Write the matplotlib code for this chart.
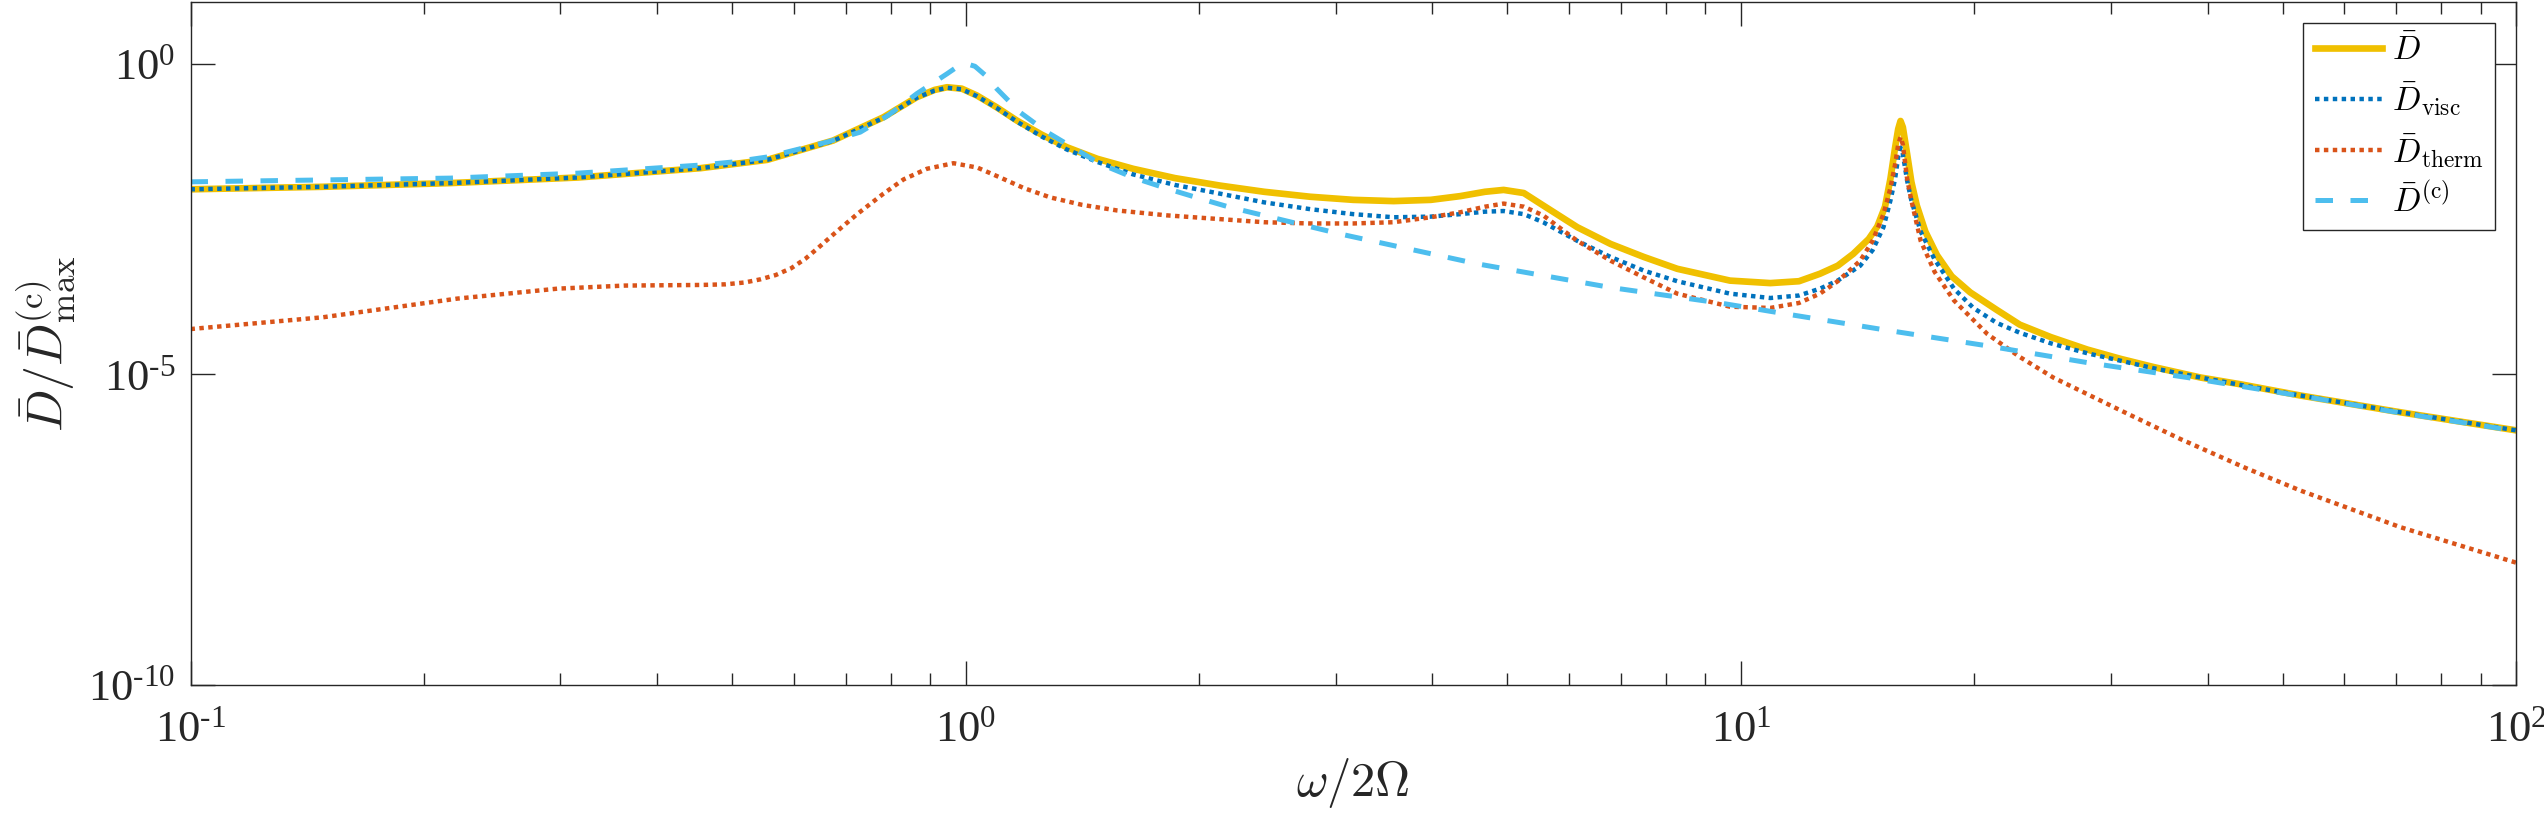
import numpy as np
import matplotlib
matplotlib.use("Agg")
from matplotlib import pyplot as plt
from matplotlib.ticker import FixedLocator, LogLocator, FuncFormatter, NullFormatter

# values, as log10(omega/2Omega) and log10(D/Dmax)
logw_total = [-1.0, -0.83, -0.665, -0.5, -0.342, -0.256, -0.171, -0.106, -0.063, -0.04,
              -0.024, -0.005, 0.0145, 0.04, 0.066, 0.098, 0.1306, 0.17, 0.216, 0.27,
              0.328, 0.385, 0.4445, 0.5, 0.552, 0.6, 0.638, 0.67, 0.694, 0.72,
              0.745, 0.789, 0.832, 0.875, 0.918, 0.986, 1.038, 1.075, 1.102, 1.125,
              1.145, 1.165, 1.176, 1.186, 1.193, 1.199, 1.203, 1.206, 1.209, 1.2145,
              1.22, 1.227, 1.238, 1.253, 1.272, 1.296, 1.33, 1.36, 1.40, 1.447,
              1.49, 1.532, 1.593, 1.645, 1.722, 1.851, 2.0]
logD_total = [-2.02, -1.98, -1.92, -1.83, -1.68, -1.546, -1.235, -0.86, -0.537, -0.42,
              -0.377, -0.40, -0.51, -0.70, -0.913, -1.14, -1.343, -1.53, -1.69, -1.84,
              -1.96, -2.06, -2.14, -2.19, -2.21, -2.19, -2.13, -2.06, -2.03, -2.08,
              -2.28, -2.63, -2.90, -3.11, -3.30, -3.49, -3.53, -3.50, -3.38, -3.25,
              -3.06, -2.82, -2.62, -2.30, -1.85, -1.35, -1.05, -0.92, -1.02, -1.45,
              -1.90, -2.28, -2.70, -3.08, -3.42, -3.68, -3.96, -4.20, -4.40, -4.60,
              -4.75, -4.88, -5.05, -5.16, -5.34, -5.61, -5.90]

logw_visc = [-1.0, -0.83, -0.665, -0.5, -0.342, -0.256, -0.171, -0.106, -0.063, -0.04,
             -0.024, -0.005, 0.0145, 0.04, 0.066, 0.098, 0.1306, 0.17, 0.216, 0.27,
             0.328, 0.385, 0.4445, 0.5, 0.552, 0.6, 0.638, 0.67, 0.694, 0.72,
             0.745, 0.789, 0.832, 0.875, 0.918, 0.986, 1.038, 1.075, 1.102, 1.125,
             1.154, 1.17, 1.184, 1.193, 1.199, 1.203, 1.206, 1.209, 1.2145, 1.22,
             1.232, 1.25, 1.275, 1.30, 1.33, 1.36, 1.40, 1.447, 1.49, 1.532,
             1.593, 1.645, 1.722, 1.851, 2.0]
logD_visc = [-2.02, -1.98, -1.92, -1.83, -1.68, -1.546, -1.24, -0.87, -0.545, -0.43,
             -0.385, -0.41, -0.52, -0.71, -0.93, -1.17, -1.38, -1.58, -1.78, -1.95,
             -2.09, -2.23, -2.34, -2.42, -2.47, -2.46, -2.42, -2.38, -2.37, -2.42,
             -2.55, -2.85, -3.11, -3.33, -3.50, -3.70, -3.77, -3.73, -3.62, -3.49,
             -3.25, -3.00, -2.63, -2.20, -1.85, -1.50, -1.35, -1.45, -1.88, -2.20,
             -2.70, -3.15, -3.62, -3.93, -4.17, -4.33, -4.50, -4.66, -4.78, -4.90,
             -5.05, -5.17, -5.34, -5.61, -5.90]

logw_therm = [-1.0, -0.829, -0.656, -0.527, -0.44, -0.342, -0.31, -0.285, -0.265, -0.245,
              -0.225, -0.207, -0.19, -0.171, -0.14, -0.106, -0.08, -0.05, -0.0157, 0.015,
              0.0445, 0.075, 0.109, 0.15, 0.195, 0.26, 0.328, 0.385, 0.4445, 0.5,
              0.552, 0.6, 0.638, 0.67, 0.694, 0.72, 0.745, 0.789, 0.832, 0.875,
              0.918, 0.986, 1.038, 1.075, 1.102, 1.125, 1.154, 1.17, 1.184, 1.193,
              1.199, 1.203, 1.206, 1.209, 1.2145, 1.22, 1.232, 1.25, 1.275, 1.318,
              1.36, 1.403, 1.49, 1.567, 1.65, 1.722, 1.851, 2.0]
logD_therm = [-4.27, -4.08, -3.78, -3.62, -3.57, -3.56, -3.55, -3.52, -3.47, -3.40,
              -3.29, -3.14, -2.96, -2.75, -2.42, -2.09, -1.86, -1.69, -1.60, -1.67,
              -1.83, -2.00, -2.15, -2.27, -2.36, -2.44, -2.50, -2.55, -2.57, -2.57,
              -2.55, -2.47, -2.39, -2.30, -2.25, -2.30, -2.44, -2.85, -3.17, -3.44,
              -3.70, -3.91, -3.93, -3.85, -3.70, -3.50, -3.17, -2.85, -2.42, -2.00,
              -1.62, -1.30, -1.18, -1.30, -1.85, -2.20, -2.85, -3.35, -3.81, -4.35,
              -4.72, -5.05, -5.58, -6.04, -6.50, -6.87, -7.46, -8.03]

logw_c = [-1.0, -0.665, -0.5, -0.342, -0.30, -0.256, -0.179, -0.136, -0.10, -0.063,
          -0.024, -0.01, 0.0015, 0.012, 0.025, 0.04, 0.07, 0.105, 0.1735, 0.216,
          0.26, 0.3026, 0.341, 0.487, 0.66, 0.8316, 0.978, 1.06, 1.189, 1.318,
          1.447, 1.576, 1.743, 1.851, 2.0]
logD_c = [-1.90, -1.84, -1.76, -1.63, -1.58, -1.50, -1.26, -1.10, -0.83, -0.48,
          -0.16, -0.04, 0.0, -0.04, -0.18, -0.40, -0.78, -1.10, -1.61, -1.83,
          -2.01, -2.17, -2.31, -2.75, -3.22, -3.60, -3.86, -4.03, -4.29, -4.54,
          -4.81, -5.05, -5.39, -5.62, -5.91]

labels = [r'$\bar{D}$', r'$\bar{D}_{\mathrm{visc}}$',
          r'$\bar{D}_{\mathrm{therm}}$', r'$\bar{D}^{(\mathrm{c})}$']
colors = ['#F0C000', '#0072BD', '#D95319', '#4DBEEE']

plt.rcParams['font.family'] = 'Liberation Serif'
plt.rcParams['mathtext.fontset'] = 'custom'
plt.rcParams['mathtext.rm'] = 'Liberation Serif'
plt.rcParams['mathtext.it'] = 'Liberation Serif:italic'
plt.rcParams['mathtext.bf'] = 'Liberation Serif:bold'

axcol = '#262626'

fig = plt.figure(figsize=(25.44, 8.25), dpi=100)
ax = fig.add_axes([190.5 / 2544, 1 - 685 / 825, (2516 - 190.5) / 2544, (685 - 1.7) / 825])

ax.plot(10 ** np.array(logw_total), 10 ** np.array(logD_total), color=colors[0],
        lw=4.8, label=labels[0])
ax.plot(10 ** np.array(logw_visc), 10 ** np.array(logD_visc), color=colors[1],
        lw=3.2, linestyle=(0, (1, 1)), dash_capstyle='butt', label=labels[1])
ax.plot(10 ** np.array(logw_therm), 10 ** np.array(logD_therm), color=colors[2],
        lw=3.2, linestyle=(0, (1, 1)), dash_capstyle='butt', label=labels[2])
ax.plot(10 ** np.array(logw_c), 10 ** np.array(logD_c), color=colors[3],
        lw=3.6, linestyle=(0, (3.5, 3.5)), dash_capstyle='butt', label=labels[3])

ax.set_xscale('log')
ax.set_yscale('log')
ax.set_xlim(0.1, 100)
ax.set_ylim(1e-10, 1e1)

ax.xaxis.set_major_locator(FixedLocator([0.1, 1, 10, 100]))
ax.xaxis.set_minor_locator(LogLocator(base=10, subs=np.arange(2, 10)))
ax.xaxis.set_minor_formatter(NullFormatter())
ax.yaxis.set_major_locator(FixedLocator([1e-10, 1e-5, 1e0]))
ax.yaxis.set_minor_locator(FixedLocator([]))

fmt = FuncFormatter(lambda v, p: '$10^{\u2010' + str(-int(round(np.log10(v)))) + '}$'
                    if v < 1 else '$10^{' + str(int(round(np.log10(v)))) + '}$')
ax.xaxis.set_major_formatter(fmt)
ax.yaxis.set_major_formatter(fmt)

ax.tick_params(which='both', direction='in', top=True, right=True,
               color=axcol, width=1.0, labelcolor=axcol, labelsize=32)
ax.tick_params(which='major', length=17)
ax.tick_params(which='minor', length=8.5)
ax.tick_params(axis='x', pad=18)
ax.tick_params(axis='y', pad=11)
for s in ax.spines.values():
    s.set_color(axcol)
    s.set_linewidth(1.0)

ax.set_xlabel(r'$\omega/2\Omega$', fontsize=35, color=axcol, math_fontfamily='cm', labelpad=4)
ax.set_ylabel(r'$\bar{D}/\bar{D}^{(\mathrm{c})}_{\mathrm{max}}$', fontsize=36, color=axcol,
              math_fontfamily='cm', labelpad=8)

leg = ax.legend(loc='upper right', bbox_to_anchor=(0.991, 0.969), borderaxespad=0,
                fontsize=24, fancybox=False, framealpha=1, edgecolor=axcol,
                handlelength=2.0, handletextpad=0.3, labelspacing=0.4, borderpad=0.35)
leg.get_frame().set_linewidth(1.0)
for t in leg.get_texts():
    t.set_math_fontfamily('cm')
    t.set_color('black')

fig.savefig('out.png', dpi=100)
